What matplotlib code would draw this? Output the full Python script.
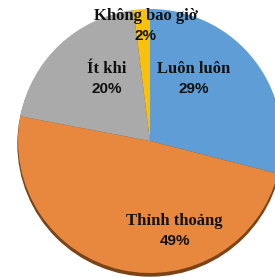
import matplotlib.pyplot as plt

# data
labels = ['Luôn luôn', 'Thỉnh thoảng', 'Ít khi', 'Không bao giờ']
shares = [29, 49, 20, 2]
colors = ['#5f9dd6', '#e8883f', '#aaaaaa', '#f7c10e']

# label anchors in pixel coords: (x centre, name baseline, percent baseline), y from top
label_pos = [(193.5, 73, 93), (174.5, 225, 245), (107, 73, 93), (145.5, 20, 40)]

W, H = 275, 277
fig = plt.figure(figsize=(W / 100, H / 100), dpi=100)
ax = fig.add_axes([0, 0, 1, 1])

cx, cy, r = 150, H - 141, 132

# bottom shadow
shadow = plt.Circle((cx, cy - 3), r, color='#7a4418', zorder=0)
ax.add_patch(shadow)

ax.pie(shares, colors=colors, startangle=90, counterclock=False,
       center=(cx, cy), radius=r, frame=True,
       wedgeprops=dict(linewidth=0))
ax.set_xlim(0, W)
ax.set_ylim(0, H)
ax.set_aspect('equal')
ax.axis('off')

for lab, val, (x, yn, yp) in zip(labels, shares, label_pos):
    ax.text(x, H - yn, lab, ha='center', va='baseline', fontsize=12,
            fontweight='bold', family='Liberation Serif', color='#111111')
    ax.text(x, H - yp, f'{val}%', ha='center', va='baseline', fontsize=11,
            fontweight='bold', family='Liberation Sans', color='#111111')

fig.savefig('out.png', dpi=100)
